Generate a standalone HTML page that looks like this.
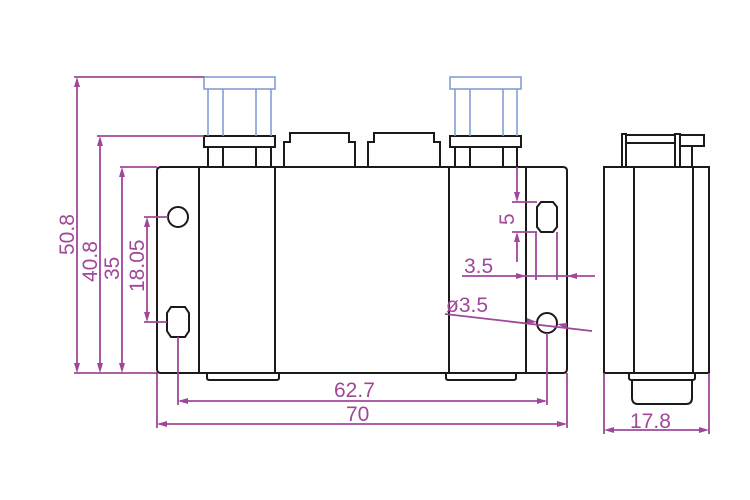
<!DOCTYPE html>
<html><head><style>body{margin:0;background:#fff}svg{display:block}</style></head><body>
<svg width="750" height="500" viewBox="0 0 750 500" xmlns="http://www.w3.org/2000/svg">
<g fill="none" stroke="#1a1a1a" stroke-width="2">
<path d="M161 167 H563 Q567 167 567 171 V369 Q567 373 563 373 H161 Q157 373 157 369 V171 Q157 167 161 167 Z"/>
<line x1="199" y1="167" x2="199" y2="373"/><line x1="275" y1="167" x2="275" y2="373"/>
<line x1="449" y1="167" x2="449" y2="373"/><line x1="526" y1="167" x2="526" y2="373"/>
<rect x="204" y="136" width="71" height="11"/><path d="M208 147V167M223 147V167M256 147V167M271 147V167"/>
<rect x="450" y="136" width="71" height="11"/><path d="M455 147V167M470 147V167M503 147V167M517 147V167"/>
<path d="M284 167V142H290V133H349V142H355V167"/>
<path d="M368 167V142H374V133H434V142H440V167"/>
<path d="M207 373V378Q207 380 210 380H276Q279 380 279 378V373"/>
<path d="M446 373V378Q446 380 449 380H513Q516 380 516 378V373"/>
<circle cx="178" cy="217" r="10"/>
<path d="M171 307H185L189 313V331L185 337H171L167 331V313Z"/>
<path d="M541 202H553L557 207V227L553 232H541L537 227V207Z"/>
<circle cx="547" cy="323" r="10"/>
<rect x="604" y="167" width="105" height="206"/>
<line x1="634" y1="167" x2="634" y2="373"/><line x1="693" y1="167" x2="693" y2="373"/>
<path d="M622 167V134H626V167M626 135H675M626 143H675M675 167V134H680V167M680 135H704V146H680M692 146V167"/>
<path d="M629 373V378Q629 380 632 380H692Q695 380 695 378V373"/>
<path d="M632 380V398Q632 404 638 404H686Q692 404 692 398V380"/>
</g>
<g fill="none" stroke="#7a9ad0" stroke-width="1.5">
<rect x="204" y="77" width="71" height="12"/><path d="M208 89V136M223 89V136M256 89V136M271 89V136"/>
<rect x="450" y="77" width="71" height="12"/><path d="M455 89V136M470 89V136M503 89V136M517 89V136"/>
</g>
<g stroke="#a0479a" stroke-width="1.8" fill="none">
<path d="M74 77H204M97 136H204M120 167H157M74 373H157"/>
<path d="M77 80V370M100 139V370M122 170V370M147 220V319"/>
<path d="M144 217H168M144 322H167"/>
<path d="M157 373V428M178 337V405M547 333V405M567 373V428"/>
<path d="M180 401H545M159 424H565"/>
<path d="M604 373V434M709 373V434M607 430H706"/>
<path d="M517 167V199M517 235V262M512 202H537M512 232H537"/>
<path d="M536 232V280M557 232V280M462 276H595"/>
<path d="M445 314L592 331"/>
</g>
<g fill="#a0479a">
<path d="M77 77l-3 10h6zM77 373l-3-10h6zM100 136l-3 10h6zM100 373l-3-10h6zM122 167l-3 10h6zM122 373l-3-10h6zM147 217l-3 10h6zM147 322l-3-10h6z"/>
<path d="M178 401l10-3v6zM547 401l-10-3v6zM157 424l10-3v6zM567 424l-10-3v6z"/>
<path d="M604 430l10-3v6zM709 430l-10-3v6z"/>
<path d="M517 202l-3-10h6zM517 232l-3 10h6z"/>
<path d="M526 276l-10-3v6zM567 276l10-3v6z"/>
<path d="M537 322l-10-4v6zM557 324l10-1v6z"/>
</g>
<g fill="#a0479a" font-family="Liberation Sans, sans-serif" font-size="21">
<text transform="translate(74 255) rotate(-90)">50.8</text>
<text transform="translate(97 282) rotate(-90)">40.8</text>
<text transform="translate(119 280) rotate(-90)">35</text>
<text transform="translate(144 292) rotate(-90)">18.05</text>
<text transform="translate(514 225) rotate(-90)">5</text>
<text x="464" y="273">3.5</text>
<text x="446" y="312">ø3.5</text>
<text x="334" y="397">62.7</text>
<text x="346" y="421">70</text>
<text x="630" y="428">17.8</text>
</g>
</svg>
</body></html>
